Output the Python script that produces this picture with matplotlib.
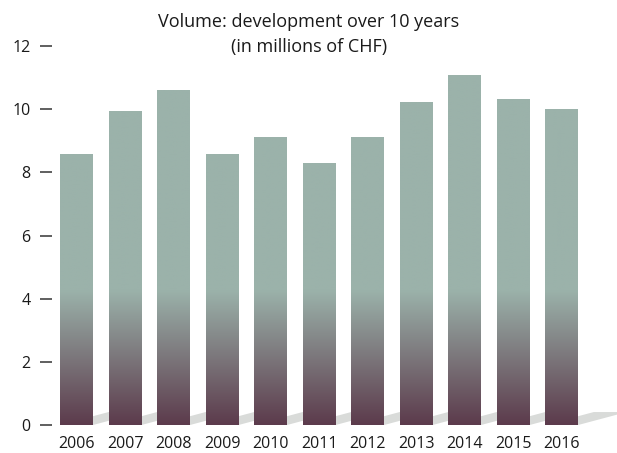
import numpy as np
import matplotlib
matplotlib.use("Agg")
import matplotlib.pyplot as plt
from matplotlib.patches import Polygon
from matplotlib.colors import to_rgb

years = ["2006", "2007", "2008", "2009", "2010", "2011", "2012", "2013", "2014", "2015", "2016"]
volume = [8.58, 9.94, 10.6, 8.58, 9.11, 8.29, 9.11, 10.22, 11.08, 10.32, 10.0]
yticks = [0, 2, 4, 6, 8, 10, 12]

plt.rcParams['font.family'] = ['Open Sans', 'DejaVu Sans']

top_col = np.array(to_rgb("#9bb2aa"))
bot_col = np.array(to_rgb("#5c3b4c"))
fade_to = 4.25
bar_w = 0.68

fig = plt.figure(figsize=(6.17, 4.53), dpi=100)
ax = fig.add_axes([52/617, 28/453, 565/617, 379/453])

x = np.arange(len(years))

# shadows behind the bars
for xi in x:
    l, r = xi - bar_w/2, xi + bar_w/2
    poly = Polygon([(l, 0), (r, 0), (r + 1.0, 0.41), (l + 1.0, 0.41)],
                   closed=True, facecolor="#d9dbd9", edgecolor="none", zorder=1)
    ax.add_patch(poly)

bars = ax.bar(x, volume, width=bar_w, color="none", zorder=2)

# gradient fill for each bar
for b, v in zip(bars, volume):
    n = 200
    ys = np.linspace(0, v, n)
    t = np.clip(ys / fade_to, 0, 1)[:, None]
    img = bot_col * (1 - t) + top_col * t
    img = img[:, None, :]
    x0 = b.get_x()
    ax.imshow(img, extent=(x0, x0 + b.get_width(), 0, v), origin="lower",
              aspect="auto", zorder=2, interpolation="bilinear")

ax.set_xlim(-0.505, 11.14)
ax.set_ylim(0, 12)
for s in ax.spines.values():
    s.set_visible(False)

ax.set_yticks(yticks)
ax.set_yticklabels([str(v) for v in yticks])
ax.tick_params(axis="y", direction="out", length=8.6, width=1.2, color="#444444",
               pad=7, labelsize=11.5, labelcolor="#1a1a1a")
ax.set_xticks(x)
ax.set_xticklabels(years)
ax.tick_params(axis="x", length=0, pad=8, labelsize=11.5, labelcolor="#1a1a1a")

fig.text(309/617, 1 - 22/453, "Volume: development over 10 years", ha="center", va="center",
         fontsize=13, color="#1a1a1a")
fig.text(309/617, 1 - 47/453, "(in millions of CHF)", ha="center", va="center",
         fontsize=13, color="#1a1a1a")

fig.savefig("out.png", dpi=100)
